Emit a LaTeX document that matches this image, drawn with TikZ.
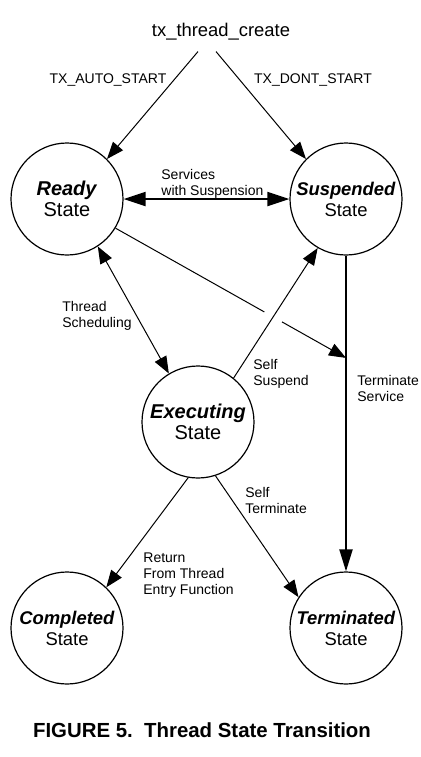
\documentclass[tikz,border=0pt]{standalone}
\usepackage{fontspec}
\setmainfont{Liberation Sans}
\usetikzlibrary{arrows.meta,calc}

\begin{document}
\begin{tikzpicture}[x=0.5pt,y=-0.5pt,
  state/.style={draw,circle,line width=0.6pt,minimum size=56pt,inner sep=0pt,align=center,font=\fontsize{10}{10.5}\selectfont},
  narrow/.style={font=\fontsize{9.2}{10.5}\selectfont},
  lbl/.style={inner sep=0pt,align=left,font=\fontsize{7}{8}\selectfont},
  arr/.style={line width=0.5pt,-{Triangle[length=8.5pt,width=6.5pt]}},
  dbl/.style={line width=0.5pt,{Triangle[length=8.5pt,width=6.5pt]}-{Triangle[length=8.5pt,width=6.5pt]}},
  hvy/.style={line width=1pt,-{Triangle[length=11pt,width=6.5pt]}},
  hvydbl/.style={line width=1pt,{Triangle[length=11pt,width=7pt]}-{Triangle[length=11pt,width=7pt]}}]
\useasboundingbox (0,0) rectangle (420,757);
% --- the five thread states ---
\node[state] (ready) at (67,199)  {\textbf{\textit{Ready}}\\State};
\node[state,narrow] (susp)  at (346,199) {\textbf{\textit{Suspended}}\\State};
\node[state] (exec)  at (198,422) {\textbf{\textit{Executing}}\\State};
\node[state,narrow] (comp)  at (67,628)  {\textbf{\textit{Completed}}\\State};
\node[state,narrow] (term)  at (346,628) {\textbf{\textit{Terminated}}\\State};
% --- creation ---
\node[font=\fontsize{9.2}{11}\selectfont] (create) at (221,32) {tx\_thread\_create};
\draw[arr] ([xshift=-11.5pt,yshift=-2pt]create.south) -- (ready.45);
\draw[arr] ([xshift=-2.5pt,yshift=-2pt]create.south) -- (susp.135);
\node[lbl] (auto) at (108,80) {TX\_AUTO\_START};
\node[lbl] (dont) at (313,80) {TX\_DONT\_START};
% --- transitions ---
\draw[hvydbl] (ready.east) -- (susp.west);
\node[lbl,anchor=west] (svc) at (161,184) {Services\\with Suspension};
\draw[dbl] (ready.-57) -- (exec.121);
\node[lbl,anchor=west] (sched) at (62,316) {Thread\\Scheduling};
\coordinate (hit) at ($(susp.south)!0.324!(term.north)$);
\draw[arr] (ready.-31) -- (hit);
\draw[white,line width=10pt] ($(exec.51)!0.43!(susp.240)$) -- ($(exec.51)!0.50!(susp.240)$);
\draw[arr] (exec.51) -- (susp.240);
\node[lbl,anchor=west] (selfs) at (253,374) {Self\\Suspend};
\draw[hvy] (susp.south) -- (term.north);
\node[lbl,anchor=west] (tsvc) at (357,388) {Terminate\\Service};
\draw[arr] (exec.260) -- (comp.46);
\node[lbl,anchor=west] (ret) at (143,575) {Return\\From Thread\\Entry Function};
\draw[arr] (exec.-72) -- (term.147);
\node[lbl,anchor=west] (selft) at (245,500) {Self\\Terminate};
% --- caption ---
\node[font=\fontsize{10.2}{12}\selectfont\bfseries] (cap) at (202,730) {FIGURE 5.\ \ Thread State Transition};
\end{tikzpicture}
\end{document}
